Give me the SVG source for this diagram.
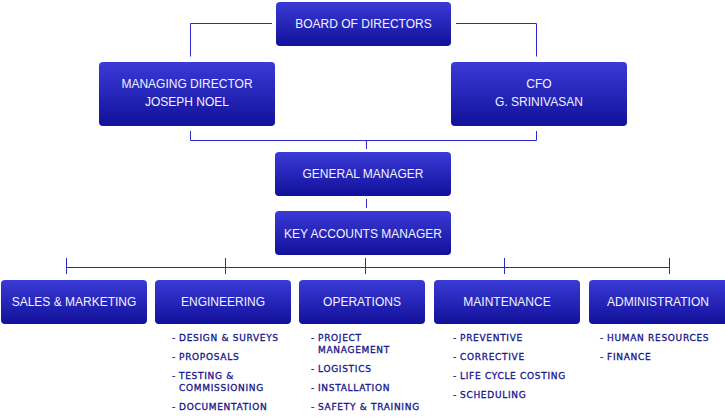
<svg xmlns="http://www.w3.org/2000/svg" width="725" height="418" viewBox="0 0 725 418">
<defs>
<linearGradient id="g" x1="0" y1="0" x2="0" y2="1">
<stop offset="0" stop-color="#3a3ad6"/>
<stop offset="1" stop-color="#11119a"/>
</linearGradient>
<style>
.box{fill:url(#g);}
.t{font-family:"Liberation Sans",Arial,sans-serif;font-size:12px;fill:#f2f2ff;text-anchor:middle;}
.s{font-family:"DejaVu Sans",Verdana,sans-serif;font-size:9px;fill:#16168a;stroke:#16168a;stroke-width:0.3px;letter-spacing:0.7px;}
.c{fill:none;stroke:#2a2acc;stroke-width:1;}
</style>
</defs>
<rect width="725" height="418" fill="#ffffff"/>
<g id="connectors" class="c">
<path d="M272,23.5 H190.5 V56.5"/>
<path d="M456,23.5 H536.5 V56.5"/>
<path d="M190.5,131 V140.5 H536.5 V131"/>
<path d="M366.5,140.5 V149"/>
<path d="M366.5,199 V208"/>
<path d="M66.5,267.5 H669.5"/>
<path d="M66.5,258 V274 M225.5,258 V274 M365.5,258 V274 M504.5,258 V274 M669.5,258 V274"/>
</g>
<g id="board"><rect class="box" x="276" y="2" width="175" height="44" rx="4"/><text class="t" x="363.5" y="27.6">BOARD OF DIRECTORS</text></g>
<g id="md"><rect class="box" x="99" y="62" width="176" height="64" rx="4"/><text class="t" x="187" y="87.6">MANAGING DIRECTOR</text><text class="t" x="187" y="106">JOSEPH NOEL</text></g>
<g id="cfo"><rect class="box" x="451" y="62" width="176" height="64" rx="4"/><text class="t" x="539" y="87.6">CFO</text><text class="t" x="539" y="106">G. SRINIVASAN</text></g>
<g id="gm"><rect class="box" x="275" y="152" width="176" height="44" rx="4"/><text class="t" x="363" y="177.6">GENERAL MANAGER</text></g>
<g id="kam"><rect class="box" x="275" y="211" width="176" height="44" rx="4"/><text class="t" x="363" y="238">KEY ACCOUNTS MANAGER</text></g>
<g id="sales"><rect class="box" x="1" y="280" width="146" height="44" rx="4"/><text class="t" x="74" y="305.6">SALES &amp; MARKETING</text></g>
<g id="eng"><rect class="box" x="155" y="280" width="136" height="44" rx="4"/><text class="t" x="223" y="305.6">ENGINEERING</text>
<text class="s" x="172" y="340.8">- <tspan x="179">DESIGN &amp; SURVEYS</tspan></text>
<text class="s" x="172" y="359.8">- <tspan x="179">PROPOSALS</tspan></text>
<text class="s" x="172" y="378.8">- <tspan x="179">TESTING &amp;</tspan></text>
<text class="s" x="179" y="390.8">COMMISSIONING</text>
<text class="s" x="172" y="410">- <tspan x="179">DOCUMENTATION</tspan></text>
</g>
<g id="ops"><rect class="box" x="299" y="280" width="126" height="44" rx="4"/><text class="t" x="362" y="305.6">OPERATIONS</text>
<text class="s" x="311" y="340.8">- <tspan x="318">PROJECT</tspan></text>
<text class="s" x="318" y="352.8">MANAGEMENT</text>
<text class="s" x="311" y="372">- <tspan x="318">LOGISTICS</tspan></text>
<text class="s" x="311" y="390.8">- <tspan x="318">INSTALLATION</tspan></text>
<text class="s" x="311" y="410">- <tspan x="318">SAFETY &amp; TRAINING</tspan></text>
</g>
<g id="maint"><rect class="box" x="434" y="280" width="146" height="44" rx="4"/><text class="t" x="507" y="305.6">MAINTENANCE</text>
<text class="s" x="453" y="340.8">- <tspan x="460">PREVENTIVE</tspan></text>
<text class="s" x="453" y="359.8">- <tspan x="460">CORRECTIVE</tspan></text>
<text class="s" x="453" y="378.8">- <tspan x="460">LIFE CYCLE COSTING</tspan></text>
<text class="s" x="453" y="397.8">- <tspan x="460">SCHEDULING</tspan></text>
</g>
<g id="admin"><rect class="box" x="589" y="280" width="140" height="44" rx="4"/><text class="t" x="658" y="305.6">ADMINISTRATION</text>
<text class="s" x="600" y="340.8">- <tspan x="607">HUMAN RESOURCES</tspan></text>
<text class="s" x="600" y="359.8">- <tspan x="607">FINANCE</tspan></text>
</g>
</svg>
